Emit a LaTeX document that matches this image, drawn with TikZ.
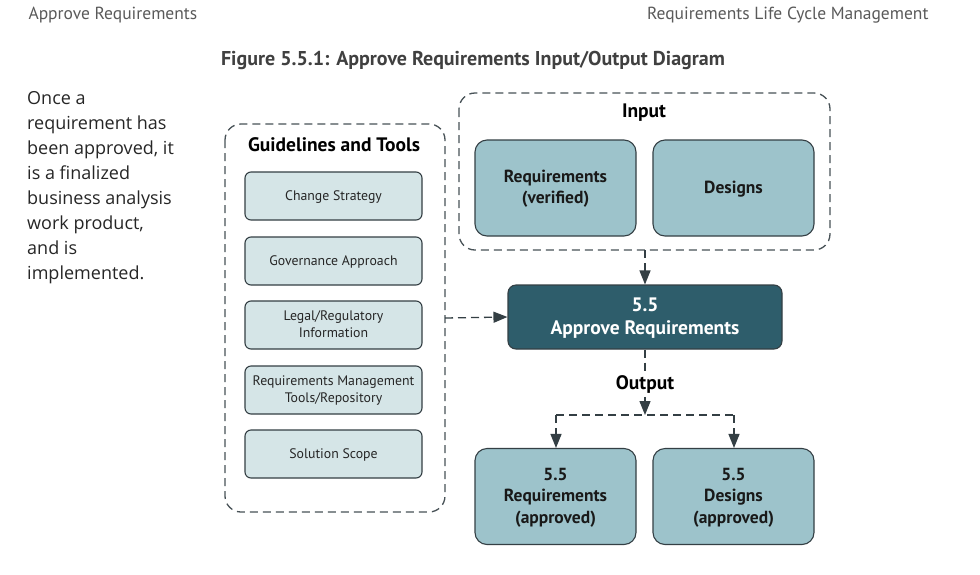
\documentclass[tikz,border=0pt]{standalone}
\usepackage{fontspec}
\setmainfont{PT Sans}
\newfontfamily\bodyfont{Open Sans}
\usetikzlibrary{arrows.meta}
\definecolor{lightbox}{HTML}{D5E5E7}
\definecolor{midbox}{HTML}{9DC3CB}
\definecolor{darkbox}{HTML}{2E5D6B}
\definecolor{edge}{HTML}{343F44}
\definecolor{headgray}{HTML}{5A5A5A}
\tikzset{
  x=1pt,y=-1pt,
  smallbox/.style={draw=edge,line width=1.1pt,fill=lightbox,rounded corners=6pt,minimum width=177pt,minimum height=48pt,align=center,font=\fontsize{13.8}{17}\selectfont,text=black!85,text depth=1.5pt},
  bigbox/.style={draw=edge,line width=1.1pt,fill=midbox,rounded corners=12pt,minimum width=161pt,minimum height=96pt,align=center,font=\fontsize{17.5}{21.5}\selectfont\bfseries,text=black!90,text depth=2pt},
  mainbox/.style={draw=edge,line width=1.1pt,fill=darkbox,rounded corners=8pt,minimum width=274pt,minimum height=64pt,align=center,font=\fontsize{19.5}{23}\selectfont\bfseries,text=white,text depth=2pt},
  group/.style={draw=edge!90,dash pattern=on 8pt off 5pt,line width=1.3pt,rounded corners=16pt},
  conn/.style={draw=edge,dash pattern=on 8pt off 5pt,line width=1.3pt},
  tip/.style={-{Triangle[width=11pt,length=14pt]}},
  grouptitle/.style={font=\fontsize{19.5}{23}\selectfont\bfseries,text=black}
}
\begin{document}
\begin{tikzpicture}
\useasboundingbox (0,0) rectangle (980,574);
\fill[white] (0,0) rectangle (980,574);
% header
\node[anchor=west,text=headgray,font=\fontsize{17.5}{20}\selectfont] (hl) at (25,15.5) {Approve Requirements};
\node[anchor=east,text=headgray,font=\fontsize{17.5}{20}\selectfont] (hr) at (932,15.5) {Requirements Life Cycle Management};
\node[text=black!75,font=\fontsize{20}{23}\selectfont\bfseries] (title) at (473,60.5) {Figure 5.5.1: Approve Requirements Input/Output Diagram};
% side text
\node[anchor=north west,align=left,inner sep=0pt,font=\bodyfont\fontsize{18}{25}\selectfont,text=black!85] (side) at (27,91) {Once a\\requirement has\\been approved, it\\is a finalized\\business analysis\\work product,\\and is\\implemented.};
% guidelines group
\draw[group] (225,124) rectangle (445,512);
\node[grouptitle] (gt) at (334,144.5) {Guidelines and Tools};
\node[smallbox] (cs) at (333.5,196) {Change Strategy};
\node[smallbox] (ga) at (333.5,261) {Governance Approach};
\node[smallbox] (lr) at (333.5,325) {Legal/Regulatory\\Information};
\node[smallbox] (rm) at (333.5,390) {Requirements Management\\Tools/Repository};
\node[smallbox] (ss) at (333.5,454) {Solution Scope};
\coordinate (gright) at (445,318);
% input group
\draw[group] (459,93) rectangle (830,250);
\coordinate (inbot) at (645,250);
\node[grouptitle] (it) at (644,112.5) {Input};
\node[bigbox] (rv) at (555.5,188) {Requirements\\(verified)};
\node[bigbox] (ds) at (733.5,188) {Designs};
% main
\node[mainbox] (main) at (645,317) {5.5\\Approve Requirements};
% output
\node[grouptitle] (ot) at (645,384.5) {Output};
\node[bigbox] (ra) at (555.5,496.5) {5.5\\Requirements\\(approved)};
\node[bigbox] (da) at (733.5,496.5) {5.5\\Designs\\(approved)};
\coordinate (split) at (645,415);
\coordinate (sl) at (556,415);
\coordinate (sr) at (734,415);
% connectors
\draw[conn,tip] (inbot) -- (main.north);
\draw[conn,tip] (gright) -- (main.west);
\draw[conn] (main.south) -- (ot.north);
\draw[conn,tip] (ot.south) -- (split);
\draw[conn] (sl) -- (sr);
\draw[conn,tip] (sl) -- (ra.north -| sl);
\draw[conn,tip] (sr) -- (da.north -| sr);
\end{tikzpicture}
\end{document}
